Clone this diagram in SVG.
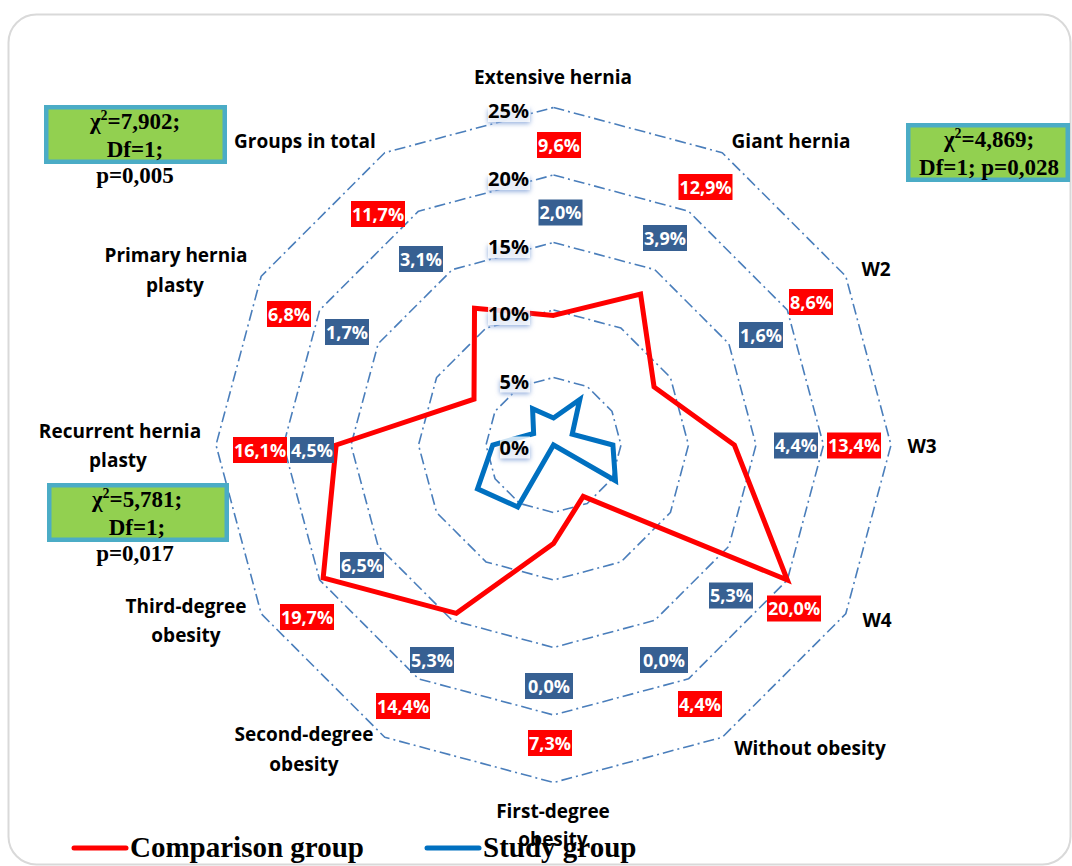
<svg xmlns="http://www.w3.org/2000/svg" width="1072" height="866" viewBox="0 0 1072 866">
<defs>
<style>
.ring{fill:none;stroke:#4a7ebb;stroke-width:1.6;stroke-dasharray:11 4 2 4;stroke-linejoin:round}
.ax{font-family:"Open Sans","Liberation Sans",sans-serif;font-weight:700;font-size:19px;fill:#000;text-anchor:middle}
.sc{font-family:"Open Sans","Liberation Sans",sans-serif;font-weight:700;font-size:20px;fill:#000;text-anchor:end}
.dl{font-family:"Open Sans","Liberation Sans",sans-serif;font-weight:700;font-size:18px;fill:#fff;text-anchor:middle}
.rb{fill:#ff0000}
.bb{fill:#376092}
.st{font-family:"Liberation Serif","Times New Roman",serif;font-weight:700;font-size:23px;fill:#000;text-anchor:middle}
.gb{fill:#92d050;stroke:#4bacc6;stroke-width:4.5}
.lg{font-family:"Liberation Serif","Times New Roman",serif;font-weight:700;font-size:29px;fill:#000}
.shd{fill:#8eaadb;filter:url(#blur)}
.wb{fill:#fff;fill-opacity:0.8}
</style>
<filter id="blur" x="-30%" y="-50%" width="160%" height="200%"><feGaussianBlur stdDeviation="2.5"/></filter>
</defs>
<rect x="8.5" y="14.5" width="1062" height="850" rx="28" fill="#fff" stroke="#d9d9d9" stroke-width="2"/>

<g id="grid">
<polygon class="ring" points="553.5,377.5 587.25,386.54 611.96,411.25 621,445 611.96,478.75 587.25,503.46 553.5,512.5 519.75,503.46 495.04,478.75 486,445 495.04,411.25 519.75,386.54"/>
<polygon class="ring" points="553.5,310 621,328.09 670.41,377.5 688.5,445 670.41,512.5 621,561.91 553.5,580 486,561.91 436.59,512.5 418.5,445 436.59,377.5 486,328.09"/>
<polygon class="ring" points="553.5,242.5 654.75,269.63 728.87,343.75 756,445 728.87,546.25 654.75,620.37 553.5,647.5 452.25,620.37 378.13,546.25 351,445 378.13,343.75 452.25,269.63"/>
<polygon class="ring" points="553.5,175 688.5,211.17 787.33,310 823.5,445 787.33,580 688.5,678.83 553.5,715 418.5,678.83 319.67,580 283.5,445 319.67,310 418.5,211.17"/>
<polygon class="ring" points="553.5,107.5 722.25,152.72 845.78,276.25 891,445 845.78,613.75 722.25,737.28 553.5,782.5 384.75,737.28 261.22,613.75 216,445 261.22,276.25 384.75,152.72"/>
</g>

<g id="connectors">
<polygon id="series-comparison" fill="none" stroke="#ff0000" stroke-width="5" stroke-linejoin="miter" points="553.5,315.4 640.58,294.18 654.05,386.95 734.4,445 787.33,580 583.2,496.44 553.5,543.55 456.3,613.35 323.18,577.98 336.15,445 474,399.1 474.52,308.21"/>
<polygon id="series-study" fill="none" stroke="#0070c0" stroke-width="5" stroke-linejoin="miter" points="553.5,418 579.83,399.4 572.21,434.2 612.9,445 615.46,480.78 553.5,445 553.5,445 517.72,506.96 477.51,488.88 492.75,445 533.62,433.52 532.57,408.76"/>
</g>

<g id="scale">
<rect class="shd" x="500" y="446" width="30" height="14"/><rect class="wb" x="500" y="436.5" width="30" height="22"/><text class="sc" x="529" y="454.5">0%</text>
<rect class="shd" x="500" y="380" width="30" height="14"/><rect class="wb" x="500" y="370.5" width="30" height="22"/><text class="sc" x="529" y="388.5">5%</text>
<rect class="shd" x="488" y="312.5" width="42" height="14"/><rect class="wb" x="488" y="303" width="42" height="22"/><text class="sc" x="529" y="321">10%</text>
<rect class="shd" x="488" y="245.5" width="42" height="14"/><rect class="wb" x="488" y="236" width="42" height="22"/><text class="sc" x="529" y="254">15%</text>
<rect class="shd" x="488" y="177.5" width="42" height="14"/><rect class="wb" x="488" y="168" width="42" height="22"/><text class="sc" x="529" y="186">20%</text>
<rect class="shd" x="488" y="109.5" width="42" height="14"/><rect class="wb" x="488" y="100" width="42" height="22"/><text class="sc" x="529" y="118">25%</text>
</g>

<g id="labels-comparison">
<rect class="rb" x="537" y="132" width="44" height="26"/><text class="dl" x="559" y="151.5">9,6%</text>
<rect class="rb" x="678.5" y="174" width="54" height="26"/><text class="dl" x="705.5" y="193.5">12,9%</text>
<rect class="rb" x="789" y="289" width="44" height="26"/><text class="dl" x="811" y="308.5">8,6%</text>
<rect class="rb" x="827" y="432.5" width="54" height="26"/><text class="dl" x="854" y="452">13,4%</text>
<rect class="rb" x="767" y="595.5" width="54" height="26"/><text class="dl" x="794" y="615">20,0%</text>
<rect class="rb" x="678" y="691" width="44" height="26"/><text class="dl" x="700" y="710.5">4,4%</text>
<rect class="rb" x="528" y="730" width="44" height="26"/><text class="dl" x="550" y="749.5">7,3%</text>
<rect class="rb" x="376" y="693" width="54" height="26"/><text class="dl" x="403" y="712.5">14,4%</text>
<rect class="rb" x="280" y="604" width="54" height="26"/><text class="dl" x="307" y="623.5">19,7%</text>
<rect class="rb" x="233" y="437" width="54" height="26"/><text class="dl" x="260" y="456.5">16,1%</text>
<rect class="rb" x="267" y="301" width="44" height="26"/><text class="dl" x="289" y="320.5">6,8%</text>
<rect class="rb" x="351" y="201" width="54" height="26"/><text class="dl" x="378" y="220.5">11,7%</text>
</g>

<g id="labels-study">
<rect class="bb" x="538.5" y="199.5" width="44" height="26"/><text class="dl" x="560.5" y="219">2,0%</text>
<rect class="bb" x="643" y="225" width="44" height="26"/><text class="dl" x="665" y="244.5">3,9%</text>
<rect class="bb" x="739" y="322" width="44" height="26"/><text class="dl" x="761" y="341.5">1,6%</text>
<rect class="bb" x="774" y="432.5" width="44" height="26"/><text class="dl" x="796" y="452">4,4%</text>
<rect class="bb" x="709" y="582.5" width="44" height="26"/><text class="dl" x="731" y="602">5,3%</text>
<rect class="bb" x="640" y="647" width="48" height="26"/><text class="dl" x="664" y="666.5">0,0%</text>
<rect class="bb" x="525" y="673" width="48" height="26"/><text class="dl" x="549" y="692.5">0,0%</text>
<rect class="bb" x="410" y="647" width="44" height="26"/><text class="dl" x="432" y="666.5">5,3%</text>
<rect class="bb" x="340" y="552" width="44" height="26"/><text class="dl" x="362" y="571.5">6,5%</text>
<rect class="bb" x="290" y="437" width="44" height="26"/><text class="dl" x="312" y="456.5">4,5%</text>
<rect class="bb" x="325" y="319" width="44" height="26"/><text class="dl" x="347" y="338.5">1,7%</text>
<rect class="bb" x="399" y="246" width="44" height="26"/><text class="dl" x="421" y="265.5">3,1%</text>
</g>

<g id="axis-labels">
<text class="ax" x="553" y="84">Extensive hernia</text>
<text class="ax" x="791" y="148">Giant hernia</text>
<text class="ax" x="876" y="276">W2</text>
<text class="ax" x="922" y="453">W3</text>
<text class="ax" x="877" y="627">W4</text>
<text class="ax" x="810" y="755">Without obesity</text>
<text class="ax" x="553" y="818">First-degree</text>
<text class="ax" x="553" y="846">obesity</text>
<text class="ax" x="304" y="741">Second-degree</text>
<text class="ax" x="304" y="771">obesity</text>
<text class="ax" x="186" y="613">Third-degree</text>
<text class="ax" x="186" y="642">obesity</text>
<text class="ax" x="120" y="438">Recurrent hernia</text>
<text class="ax" x="118" y="467">plasty</text>
<text class="ax" x="176" y="262">Primary hernia</text>
<text class="ax" x="175" y="292">plasty</text>
<text class="ax" x="305" y="148">Groups in total</text>
</g>

<g id="stat-groups-total">
<rect class="gb" x="46.25" y="107.25" width="178.5" height="54.5"/>
<text class="st" x="135" y="129">χ<tspan font-size="14" dy="-9">2</tspan><tspan dy="9">=7,902;</tspan></text>
<text class="st" x="135" y="157">Df=1;</text>
<text class="st" x="135" y="183">p=0,005</text>
</g>
<g id="stat-giant">
<rect class="gb" x="908.25" y="125.25" width="159.5" height="54.5"/>
<text class="st" x="989" y="147">χ<tspan font-size="14" dy="-9">2</tspan><tspan dy="9">=4,869;</tspan></text>
<text class="st" x="989" y="175">Df=1; p=0,028</text>
</g>
<g id="stat-recurrent">
<rect class="gb" x="49.25" y="485.25" width="177.5" height="54.5"/>
<text class="st" x="137" y="507">χ<tspan font-size="14" dy="-9">2</tspan><tspan dy="9">=5,781;</tspan></text>
<text class="st" x="137" y="535">Df=1;</text>
<text class="st" x="135" y="561">p=0,017</text>
</g>

<g id="legend">
<line x1="74" y1="848" x2="126" y2="848" stroke="#ff0000" stroke-width="5" stroke-linecap="round"/>
<text class="lg" x="130" y="857">Comparison group</text>
<line x1="427" y1="848" x2="479" y2="848" stroke="#0070c0" stroke-width="5" stroke-linecap="round"/>
<text class="lg" x="483" y="857">Study group</text>
</g>
</svg>
